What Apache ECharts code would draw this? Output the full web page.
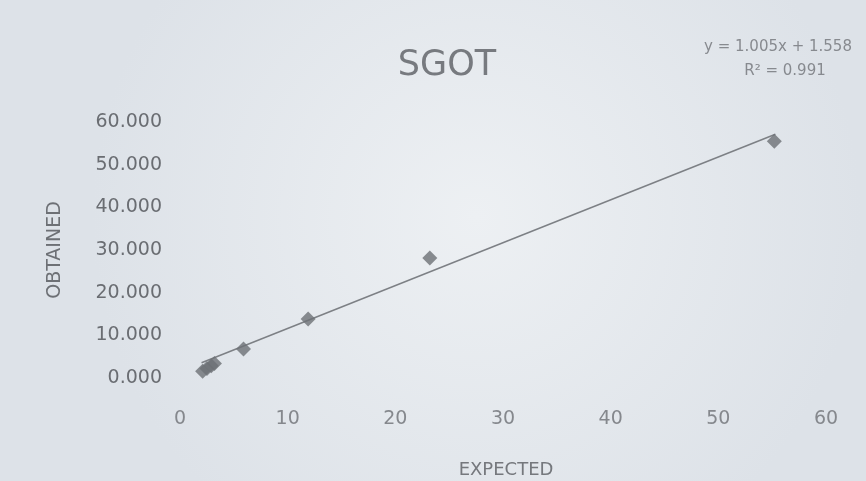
<!DOCTYPE html>
<html>
<head>
<meta charset="utf-8">
<script src="https://cdn.jsdelivr.net/npm/echarts@6/dist/echarts.min.js"></script>
<style>
html,body{margin:0;padding:0;}
#c{width:866px;height:481px;}
</style>
</head>
<body>
<div id="c"></div>
<script>
// Data
const expected = [2.1, 2.5, 2.9, 3.2, 5.9, 11.9, 23.2, 55.2];
const obtained = [1.6, 2.2, 2.9, 3.4, 6.8, 13.8, 28.1, 55.5];
const xTicks = [0, 10, 20, 30, 40, 50, 60];
const yTicks = [0, 10, 20, 30, 40, 50, 60];
const trendSlope = 1.005;
const trendIntercept = 1.558;
const trendRange = [2.0, 55.3];
const equationText = 'y = 1.005x + 1.558';
const r2Text = 'R\u00B2 = 0.991';

const points = expected.map((x, i) => [x, obtained[i]]);
const trend = trendRange.map(x => [x, trendSlope * x + trendIntercept]);

const chart = echarts.init(document.getElementById('c'));
chart.setOption({
  backgroundColor: {
    type: 'radial', x: 0.55, y: 0.45, r: 0.8,
    colorStops: [{offset: 0, color: '#edf0f3'}, {offset: 1, color: '#dde2e8'}]
  },
  animation: false,
  title: {
    text: 'SGOT', left: 442, top: 43, textAlign: 'center',
    textStyle: {fontFamily: 'DejaVu Sans', fontSize: 35, fontWeight: 'normal', color: '#777a7f'}
  },
  grid: {left: 180, right: 40, top: 122, bottom: 103},
  xAxis: {
    type: 'value', min: xTicks[0], max: xTicks[xTicks.length - 1], interval: 10,
    axisLine: {show: false}, axisTick: {show: false}, splitLine: {show: false},
    axisLabel: {margin: 32, fontFamily: 'DejaVu Sans', fontSize: 19, color: '#85888d'}
  },
  yAxis: {
    type: 'value', min: yTicks[0], max: yTicks[yTicks.length - 1], interval: 10,
    axisLine: {show: false}, axisTick: {show: false}, splitLine: {show: false},
    axisLabel: {margin: 18, fontFamily: 'DejaVu Sans', fontSize: 19, color: '#6a6d72',
      formatter: v => v.toFixed(3)}
  },
  graphic: [
    {type: 'text', x: 506, y: 470, style: {text: 'EXPECTED', font: '18px "DejaVu Sans"', fill: '#75787d', textAlign: 'center', textVerticalAlign: 'middle'}},
    {type: 'text', x: 55, y: 250, rotation: Math.PI / 2, style: {text: 'OBTAINED', font: '19px "DejaVu Sans"', fill: '#6d7075', textAlign: 'center', textVerticalAlign: 'middle'}},
    {type: 'text', x: 778, y: 47, style: {text: equationText, font: '15px "DejaVu Sans"', fill: '#878a8f', textAlign: 'center', textVerticalAlign: 'middle'}},
    {type: 'text', x: 785, y: 71, style: {text: r2Text, font: '15px "DejaVu Sans"', fill: '#878a8f', textAlign: 'center', textVerticalAlign: 'middle'}}
  ],
  series: [
    {type: 'line', data: trend, symbol: 'none', lineStyle: {color: '#7d8085', width: 1.5}, z: 1},
    {type: 'scatter', data: points, symbol: 'diamond', symbolSize: 15, itemStyle: {color: '#6d7075'}, z: 2}
  ]
});
</script>
</body>
</html>
